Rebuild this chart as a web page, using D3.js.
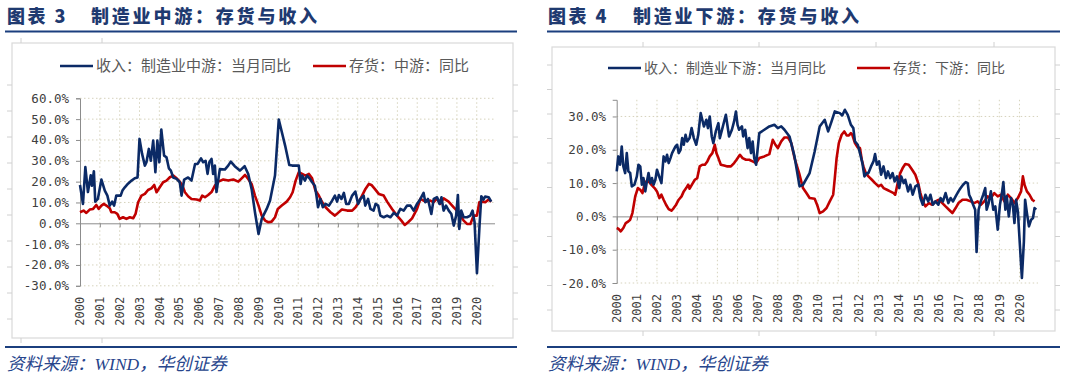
<!DOCTYPE html>
<html>
<head>
<meta charset="utf-8">
<script src="https://cdn.jsdelivr.net/npm/d3@7"></script>
<style>
  body { margin: 0; background: #fff; }
  svg { display: block; }
</style>
</head>
<body>
<div id="chart"></div>
<script>
// 年份刻度与纵轴刻度
var years = d3.range(2000, 2021);
var midTicks = [-30, -20, -10, 0, 10, 20, 30, 40, 50, 60];
var downTicks = [-20, -10, 0, 10, 20, 30];

// 图例与标题文字
var midTitle = ["图表 3", "制造业中游：存货与收入"];
var downTitle = ["图表 4", "制造业下游：存货与收入"];
var midNames = ["收入：制造业中游：当月同比", "存货：中游：同比"];
var downNames = ["收入：制造业下游：当月同比", "存货：下游：同比"];
var sourceText = "资料来源：WIND，华创证券";

// 中游 收入（当月同比，%）  [年份, 数值]
var midRevenue = [[2000.0,18.4],[2000.15,9.3],[2000.27,27],[2000.4,15],[2000.54,23],[2000.6,18],[2000.7,25],[2000.77,10.4],[2000.9,11.7],[2001.08,21],[2001.25,15.7],[2001.38,13.3],[2001.5,8.5],[2001.62,10.4],[2001.72,8.5],[2001.83,13.3],[2002.05,13.3],[2002.14,15.7],[2002.26,17.3],[2002.42,19],[2002.6,20.5],[2002.76,21.6],[2002.9,22],[2003.0,40.5],[2003.13,33.3],[2003.27,27.7],[2003.35,29.3],[2003.47,35.7],[2003.57,30],[2003.69,39.7],[2003.8,24.5],[2003.9,39.7],[2004.0,29.3],[2004.1,45],[2004.24,32.5],[2004.36,31.7],[2004.48,26.4],[2004.58,25.3],[2004.7,22],[2004.87,21.3],[2005.03,19.7],[2005.12,13.3],[2005.25,21],[2005.45,22],[2005.62,20.5],[2005.8,28.5],[2005.93,28.5],[2006.1,31.2],[2006.21,29.3],[2006.33,30],[2006.43,23.7],[2006.52,29.3],[2006.63,30.9],[2006.71,23.7],[2006.8,27.7],[2006.88,15],[2007.05,26],[2007.3,25.8],[2007.47,27.7],[2007.6,29.6],[2007.8,27.4],[2008.06,25.3],[2008.3,27.4],[2008.48,23.7],[2008.65,16.5],[2008.82,5.3],[2009.0,-5.1],[2009.16,2.1],[2009.41,6.9],[2009.58,10.9],[2009.83,22.9],[2010.02,49.8],[2010.34,37.3],[2010.55,28],[2010.7,27.7],[2011.03,27.7],[2011.12,18.9],[2011.2,22.9],[2011.34,20.5],[2011.45,22.9],[2011.57,21.6],[2011.7,19.7],[2011.84,18],[2011.92,13.3],[2012.0,7.7],[2012.12,11.7],[2012.24,7.7],[2012.38,9.3],[2012.55,8.5],[2012.71,10.9],[2012.85,13.3],[2012.96,10.4],[2013.05,13.6],[2013.18,11.7],[2013.3,14.6],[2013.42,9.3],[2013.55,9.3],[2013.72,13.3],[2013.88,15.2],[2014.02,9.3],[2014.14,11.7],[2014.3,13.3],[2014.38,8.5],[2014.52,11.7],[2014.64,6.9],[2014.8,6.1],[2014.9,9.3],[2015.03,8.5],[2015.14,3.7],[2015.31,2.9],[2015.48,3.7],[2015.65,2.9],[2015.82,5],[2015.98,3.7],[2016.15,6.9],[2016.32,6.1],[2016.49,8.5],[2016.66,8.5],[2016.82,6.1],[2016.99,9.3],[2017.16,11.7],[2017.32,14.6],[2017.41,10.1],[2017.54,11.7],[2017.71,4.5],[2017.83,11.7],[2018.0,12.5],[2018.12,9.3],[2018.22,12.5],[2018.33,6.1],[2018.45,8.5],[2018.59,6.1],[2018.72,4.5],[2018.84,-1.1],[2018.96,3.7],[2019.05,13.6],[2019.12,-2.7],[2019.22,6.1],[2019.34,2.9],[2019.51,2.9],[2019.68,3.7],[2019.79,6.1],[2019.89,0.5],[2020.01,-24],[2020.14,-1.1],[2020.23,13],[2020.34,11.4],[2020.42,12.8],[2020.6,12.5],[2020.73,10.4]];

// 中游 存货（同比，%）
var midInventory = [[2000.0,5.3],[2000.18,6.1],[2000.32,5],[2000.49,6.6],[2000.66,6.9],[2000.82,8.8],[2000.94,6.9],[2001.08,8.5],[2001.2,9.3],[2001.33,8.5],[2001.5,7.2],[2001.58,5.3],[2001.75,5.3],[2001.88,4.5],[2002.0,2.1],[2002.17,2.9],[2002.34,2.1],[2002.51,2.9],[2002.68,2.4],[2002.8,4.5],[2002.93,10.1],[2003.1,13.3],[2003.27,14.1],[2003.43,16],[2003.6,16.8],[2003.74,18.4],[2003.86,14.9],[2004.02,17.3],[2004.19,19.7],[2004.36,20.5],[2004.53,22.1],[2004.7,22.9],[2004.87,21.6],[2005.03,20],[2005.15,18.4],[2005.29,14.9],[2005.45,13],[2005.62,11.7],[2005.88,11.4],[2006.04,10.9],[2006.16,13.3],[2006.3,12.5],[2006.46,13.6],[2006.63,15],[2006.8,18.1],[2006.97,20],[2007.22,21],[2007.47,20.5],[2007.73,21],[2007.98,20],[2008.15,21.6],[2008.32,23.2],[2008.48,21.3],[2008.65,18.9],[2008.82,13.3],[2009.0,8.5],[2009.16,3.7],[2009.33,1.3],[2009.5,0.5],[2009.66,0.8],[2009.83,2.9],[2009.97,6.9],[2010.17,8.5],[2010.42,10.4],[2010.59,12.5],[2010.72,14.9],[2010.87,20.5],[2011.03,24.5],[2011.2,23.7],[2011.37,22.9],[2011.54,23.7],[2011.7,21.6],[2011.87,15.7],[2012.04,13.3],[2012.21,10.1],[2012.38,7.7],[2012.63,5.3],[2012.85,3.7],[2013.01,5],[2013.2,6.6],[2013.47,6.1],[2013.72,6.1],[2013.89,7.7],[2014.05,10.1],[2014.22,13.3],[2014.39,16.5],[2014.56,18.9],[2014.69,18.4],[2014.86,16.5],[2015.06,14.1],[2015.31,13.3],[2015.48,10.4],[2015.73,6.9],[2015.98,3.7],[2016.2,1.3],[2016.37,-0.8],[2016.54,0.5],[2016.74,2.4],[2016.99,6.9],[2017.16,11.7],[2017.41,10.4],[2017.66,10.9],[2017.83,10.1],[2018.0,12],[2018.16,9.3],[2018.33,12],[2018.58,10.4],[2018.84,7.7],[2019.0,6.1],[2019.12,4.5],[2019.34,1.3],[2019.51,-0.3],[2019.68,-0.3],[2019.84,3.7],[2020.01,3.7],[2020.13,10.1],[2020.26,10.4],[2020.43,10.1],[2020.6,11.4],[2020.73,10.4]];

// 下游 收入（当月同比，%）
var downRevenue = [[2000.0,13.5],[2000.08,18],[2000.17,15.5],[2000.25,21],[2000.33,15],[2000.42,13],[2000.5,19],[2000.58,13.5],[2000.67,13],[2000.75,9],[2000.88,9.5],[2001.0,12],[2001.08,15.5],[2001.17,15],[2001.25,9.5],[2001.33,11.5],[2001.42,7.5],[2001.5,10.5],[2001.58,13],[2001.67,10],[2001.75,11.5],[2001.83,9.5],[2001.92,11],[2002.0,14],[2002.08,12.5],[2002.22,10],[2002.33,18],[2002.42,16.5],[2002.5,18.5],[2002.58,16],[2002.67,17.5],[2002.75,19],[2002.92,21],[2003.0,21.5],[2003.08,19],[2003.17,20],[2003.25,23.5],[2003.33,21.5],[2003.42,24.5],[2003.5,22.5],[2003.62,23.5],[2003.72,26.5],[2003.83,23.5],[2003.95,21.5],[2004.05,24.5],[2004.17,31],[2004.25,29],[2004.33,27],[2004.45,29],[2004.53,26.5],[2004.62,30],[2004.72,24],[2004.8,22],[2004.92,25.5],[2005.05,28],[2005.12,23.5],[2005.25,26.5],[2005.42,30.5],[2005.58,24],[2005.72,26],[2005.83,28.5],[2005.92,31.5],[2006.0,27.5],[2006.08,26],[2006.22,27],[2006.28,24],[2006.38,26],[2006.5,20.5],[2006.58,23.5],[2006.67,19],[2006.75,22.5],[2006.83,17.5],[2006.92,15.5],[2007.08,25],[2007.33,26],[2007.58,27],[2007.83,27.5],[2008.0,26.5],[2008.17,27],[2008.33,26],[2008.58,24],[2008.83,18],[2009.08,9],[2009.25,9.5],[2009.58,13],[2009.83,19.5],[2010.08,27],[2010.33,29],[2010.5,25.5],[2010.67,28.5],[2010.83,31.5],[2011.08,31],[2011.2,30.3],[2011.33,32],[2011.47,30.5],[2011.63,27.5],[2011.75,26.5],[2011.83,22.5],[2011.97,21.5],[2012.08,19],[2012.2,16],[2012.3,12],[2012.42,13],[2012.5,13],[2012.63,15],[2012.75,16.5],[2012.83,18.7],[2012.92,15.5],[2013.03,16.5],[2013.13,12.5],[2013.25,15],[2013.37,11.5],[2013.47,13.5],[2013.58,11.5],[2013.7,13],[2013.8,10.5],[2013.92,12],[2014.03,8.5],[2014.13,12],[2014.25,10],[2014.33,11],[2014.47,7.5],[2014.58,9.5],[2014.7,6.5],[2014.83,9],[2014.97,9.5],[2015.08,5.5],[2015.2,3.5],[2015.33,6.5],[2015.47,4.5],[2015.58,6.5],[2015.7,3.5],[2015.83,4.5],[2015.97,3.5],[2016.08,5.5],[2016.2,4.5],[2016.33,7],[2016.47,4],[2016.58,5.5],[2016.7,4.5],[2016.83,6],[2016.97,7.5],[2017.08,8.5],[2017.2,9.5],[2017.33,10.3],[2017.43,10],[2017.5,6.5],[2017.58,5.5],[2017.7,3.5],[2017.8,2],[2017.87,-10.7],[2017.97,2],[2018.08,4.5],[2018.2,6.5],[2018.3,8.5],[2018.37,2],[2018.47,4],[2018.58,7.5],[2018.7,2],[2018.8,3],[2018.92,-4],[2019.03,3.5],[2019.13,7],[2019.2,10.3],[2019.3,2],[2019.37,6],[2019.47,0],[2019.58,5.5],[2019.67,3.5],[2019.75,-2],[2019.83,5],[2019.92,1.5],[2020.0,-6.5],[2020.12,-18.5],[2020.22,-7.5],[2020.28,5],[2020.37,1],[2020.47,-3],[2020.58,-1],[2020.67,-0.5],[2020.75,2.5],[2020.83,2]];

// 下游 存货（同比，%）
var downInventory = [[2000.0,-3.5],[2000.08,-3.7],[2000.2,-4.5],[2000.33,-3.5],[2000.45,-2],[2000.58,-1.5],[2000.67,-1],[2000.78,1],[2000.92,6],[2001.05,8.5],[2001.17,8],[2001.28,7],[2001.38,9.5],[2001.5,10.7],[2001.62,10.3],[2001.75,9.3],[2001.88,8.5],[2002.0,7.5],[2002.12,5.5],[2002.22,6.5],[2002.33,5],[2002.45,3.5],[2002.58,2.2],[2002.72,1.7],[2002.83,2.5],[2002.95,3.5],[2003.08,5],[2003.22,6],[2003.33,7.5],[2003.45,8.5],[2003.55,9.5],[2003.62,8.3],[2003.75,9.7],[2003.88,11],[2004.0,11.5],[2004.12,15],[2004.25,15.5],[2004.38,15.5],[2004.5,16.5],[2004.62,18],[2004.75,19],[2004.87,21.5],[2004.95,19],[2005.05,17.5],[2005.17,15.5],[2005.33,15.3],[2005.5,15],[2005.67,15],[2005.83,16],[2005.95,17],[2006.12,18.5],[2006.25,17.5],[2006.42,17],[2006.58,17],[2006.75,16.5],[2006.92,16],[2007.08,17.5],[2007.33,18],[2007.58,18.7],[2007.75,23],[2007.88,21.5],[2008.0,20.5],[2008.17,22.5],[2008.33,23.7],[2008.5,23.7],[2008.67,22],[2008.83,17.5],[2009.08,12.5],[2009.25,8.5],[2009.42,7],[2009.58,5.5],[2009.83,5.3],[2009.95,3.5],[2010.08,1],[2010.25,1.5],[2010.42,2.5],[2010.58,4.5],[2010.75,6.5],[2010.83,11.5],[2010.92,17.5],[2011.03,22],[2011.17,24.5],[2011.3,25.5],[2011.42,24.3],[2011.53,24.3],[2011.63,25],[2011.7,24.5],[2011.83,22],[2011.97,20.7],[2012.08,20.5],[2012.17,17],[2012.25,15],[2012.37,13],[2012.5,12],[2012.67,11],[2012.83,10],[2013.0,9],[2013.13,9.5],[2013.25,8.5],[2013.42,8],[2013.58,7.5],[2013.75,7],[2013.83,6.5],[2013.97,10.5],[2014.08,13],[2014.2,14.5],[2014.33,15.7],[2014.5,15.5],[2014.67,14],[2014.83,12.5],[2014.97,10],[2015.08,7],[2015.2,4.5],[2015.33,3],[2015.5,4],[2015.67,3.5],[2015.83,4.5],[2016.0,5],[2016.17,4],[2016.33,3],[2016.5,2],[2016.67,1],[2016.83,2.5],[2016.97,4],[2017.17,5],[2017.37,5],[2017.58,4.5],[2017.75,4],[2017.92,4.5],[2018.08,3.5],[2018.25,4.5],[2018.42,6],[2018.58,5.5],[2018.75,7],[2018.92,6],[2019.08,6.5],[2019.25,4.5],[2019.42,6.5],[2019.58,5.5],[2019.75,4],[2019.92,5.5],[2020.08,7.5],[2020.17,12],[2020.25,9.5],[2020.37,7.5],[2020.5,6.5],[2020.63,5],[2020.75,4.5]];

var BLUE = "#0b2a66", RED = "#c00000";
var xDomain = [2000, 2020.92];

var svg = d3.select("#chart").append("svg")
    .attr("width", 1069)
    .attr("height", 377)
    .style("font-family", "'Noto Sans CJK SC', sans-serif");

svg.append("rect").attr("width", 1069).attr("height", 377).attr("fill", "#fff");

function drawPanel(p) {
    var g = svg.append("g");

    // 标题
    g.append("text").attr("x", p.titleX).attr("y", 22.5)
        .attr("font-size", 18).attr("font-weight", 900).attr("fill", "#1f3a70")
        .style("letter-spacing", "2.5px").text(p.title[0]);
    g.append("text").attr("x", p.titleX2).attr("y", 22.5)
        .attr("font-size", 18).attr("font-weight", 900).attr("fill", "#1f3a70")
        .style("letter-spacing", "2.8px").text(p.title[1]);

    // 上下蓝色分隔线
    g.append("line").attr("x1", p.ruleX0).attr("x2", p.ruleX1)
        .attr("y1", 31.5).attr("y2", 31.5)
        .attr("stroke", "#1b3f7e").attr("stroke-width", 2.2);
    g.append("line").attr("x1", p.ruleX0).attr("x2", p.ruleX1)
        .attr("y1", 347).attr("y2", 347)
        .attr("stroke", "#1b3f7e").attr("stroke-width", 2.2);

    // 资料来源
    g.append("text").attr("x", p.titleX).attr("y", 370)
        .attr("font-size", 17.5).attr("font-style", "italic").attr("fill", "#27458c")
        .style("font-family", "'Liberation Serif', 'Noto Sans CJK SC', serif")
        .text(sourceText);

    // 图表外框及边缘刻度
    g.append("rect").attr("x", p.boxX0).attr("y", p.boxY0)
        .attr("width", p.boxX1 - p.boxX0).attr("height", p.boxY1 - p.boxY0)
        .attr("fill", "#fff").attr("stroke", "#d9d9d9").attr("stroke-width", 1.2);
    p.sideTicks.forEach(function (t) {
        g.append("line").attr("x1", p.boxX0 - 5).attr("x2", p.boxX0)
            .attr("y1", t).attr("y2", t).attr("stroke", "#d0d0d0");
        g.append("line").attr("x1", p.boxX1).attr("x2", p.boxX1 + 5)
            .attr("y1", t).attr("y2", t).attr("stroke", "#d0d0d0");
    });
    p.topTicks.forEach(function (t) {
        g.append("line").attr("x1", t).attr("x2", t)
            .attr("y1", p.boxY0 - 5).attr("y2", p.boxY0).attr("stroke", "#d0d0d0");
        g.append("line").attr("x1", t).attr("x2", t)
            .attr("y1", p.boxY1).attr("y2", p.boxY1 + 5).attr("stroke", "#d0d0d0");
    });

    var x = d3.scaleLinear().domain(xDomain).range([p.x0, p.x1]);
    var y = d3.scaleLinear().domain(p.yDomain).range([p.yb, p.yt]);

    // 网格线
    g.append("g").selectAll("line").data(p.yTicks.filter(function (d) { return d !== 0; }))
        .enter().append("line")
        .attr("x1", p.x0).attr("x2", p.x1)
        .attr("y1", function (d) { return y(d); }).attr("y2", function (d) { return y(d); })
        .attr("stroke", "#d6d3bd").attr("stroke-dasharray", "1.5,2.5");
    g.append("g").selectAll("line").data(years.slice(1))
        .enter().append("line")
        .attr("x1", function (d) { return x(d); }).attr("x2", function (d) { return x(d); })
        .attr("y1", p.yt).attr("y2", p.yb)
        .attr("stroke", "#d6d3bd").attr("stroke-dasharray", "1.5,2.5");

    // 纵轴
    var yAxis = d3.axisLeft(y).tickValues(p.yTicks).tickSize(4).tickPadding(5)
        .tickFormat(function (d) { return d.toFixed(1) + "%"; });
    var ya = g.append("g").attr("transform", "translate(" + p.x0 + ",0)").call(yAxis);
    ya.select(".domain").attr("stroke", "#8c8c8c");
    ya.selectAll(".tick line").attr("stroke", "#8c8c8c");
    ya.selectAll(".tick text")
        .attr("font-family", "'DejaVu Sans Mono', monospace")
        .attr("font-size", 12.5).attr("fill", "#404040")
        .attr("x", p.yLabelX - p.x0);

    // 零线与年份刻度
    var xAxis = d3.axisBottom(x).tickValues(years).tickSize(4).tickFormat("");
    var xa = g.append("g").attr("transform", "translate(0," + y(0) + ")").call(xAxis);
    xa.select(".domain").attr("stroke", "#8c8c8c").attr("d", "M" + p.x0 + ",0.5H" + p.x1);
    xa.selectAll(".tick line").attr("stroke", "#8c8c8c");

    // 年份标签（竖排）
    g.append("g").selectAll("text").data(years).enter().append("text")
        .attr("transform", function (d) {
            return "translate(" + x(d) + "," + (p.yb + 11) + ") rotate(-90)";
        })
        .attr("text-anchor", "end").attr("dy", "0.35em")
        .attr("font-family", "'DejaVu Sans Mono', monospace")
        .attr("font-size", 12).attr("fill", "#404040")
        .text(function (d) { return d; });

    // 曲线
    var line = d3.line()
        .x(function (d) { return x(d[0]); })
        .y(function (d) { return y(d[1]); });
    g.append("path").datum(p.inventory).attr("d", line)
        .attr("fill", "none").attr("stroke", RED).attr("stroke-width", 2.6)
        .attr("stroke-linejoin", "round");
    g.append("path").datum(p.revenue).attr("d", line)
        .attr("fill", "none").attr("stroke", BLUE).attr("stroke-width", 2.6)
        .attr("stroke-linejoin", "round");

    // 图例
    var items = [
        { name: p.names[0], color: BLUE, lx: p.legX[0] },
        { name: p.names[1], color: RED, lx: p.legX[1] }
    ];
    items.forEach(function (it) {
        g.append("line").attr("x1", it.lx).attr("x2", it.lx + 33)
            .attr("y1", p.legY).attr("y2", p.legY)
            .attr("stroke", it.color).attr("stroke-width", 2.6);
        g.append("text").attr("x", it.lx + 36).attr("y", p.legY)
            .attr("dy", "0.36em").attr("font-size", p.legSize).attr("fill", "#595959")
            .text(it.name);
    });
}

drawPanel({
    title: midTitle, names: midNames,
    revenue: midRevenue, inventory: midInventory,
    titleX: 7, titleX2: 91, ruleX0: 5, ruleX1: 517,
    boxX0: 12, boxX1: 513, boxY0: 43, boxY1: 338,
    sideTicks: d3.range(85, 330, 26), topTicks: [21, 102],
    x0: 80, x1: 495, yt: 98.3, yb: 285.8,
    yDomain: [-30, 60], yTicks: midTicks, yLabelX: 69,
    legX: [60, 313], legY: 66, legSize: 15
});

drawPanel({
    title: downTitle, names: downNames,
    revenue: downRevenue, inventory: downInventory,
    titleX: 548, titleX2: 633, ruleX0: 547, ruleX1: 1060,
    boxX0: 552, boxX1: 1055, boxY0: 47, boxY1: 331,
    sideTicks: d3.range(65, 325, 24.5), topTicks: [643, 759, 876, 994],
    x0: 616.7, x1: 1038, yt: 99.8, yb: 283,
    yDomain: [-20, 35], yTicks: downTicks, yLabelX: 606,
    legX: [608, 857], legY: 68, legSize: 14
});
</script>
</body>
</html>
